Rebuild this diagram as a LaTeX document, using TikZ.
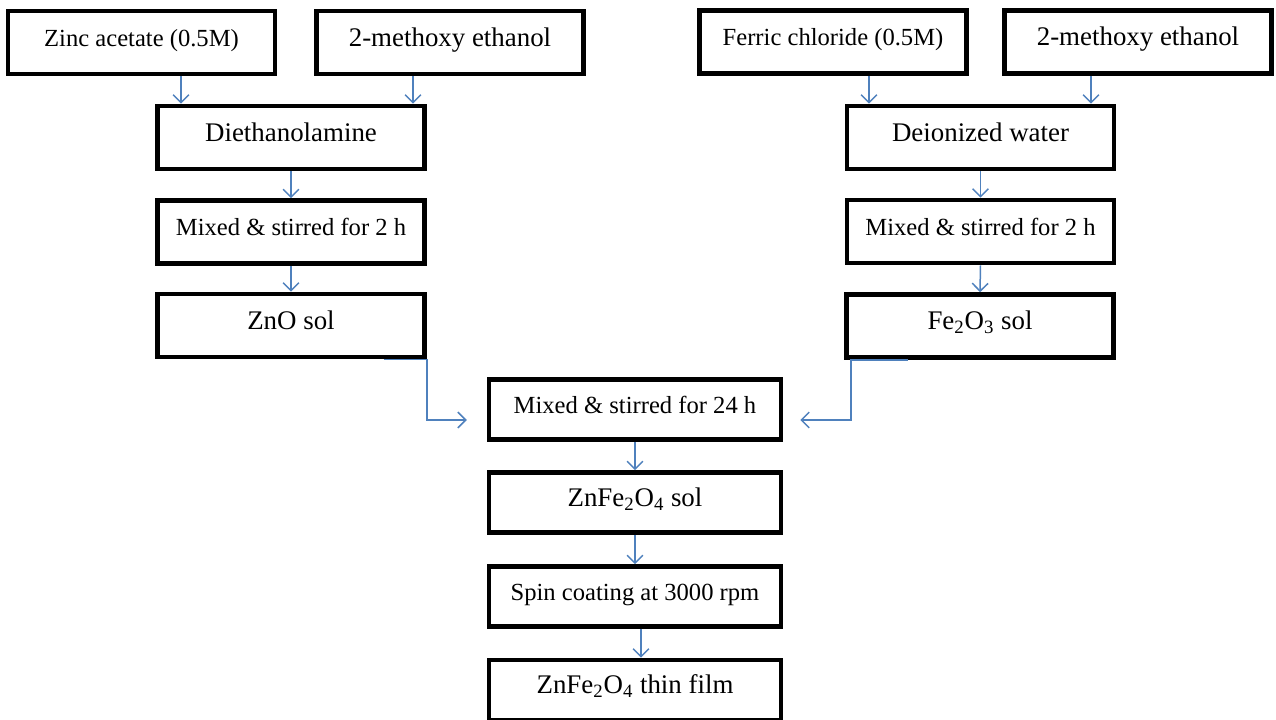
\documentclass[tikz,border=0pt]{standalone}
\usepackage{fontspec}
\setmainfont{Liberation Serif}
\usetikzlibrary{arrows.meta}
\definecolor{bleuword}{RGB}{79,129,189}
\newcommand{\flcol}{bleuword}
\newcommand{\grand}{\fontsize{15.3}{18}\selectfont}
\newcommand{\petit}{\fontsize{14}{17}\selectfont}

\begin{document}
\begin{tikzpicture}[x=0.02cm, y=-0.02cm,
    boite/.style={draw=black, line width=2.6pt, minimum width=5.34cm, minimum height=1.26cm,
        inner sep=0pt, text height=10pt, text depth=5.5pt, font=\grand},
    petite/.style={boite, font=\petit},
    centre/.style={boite, minimum width=5.84cm, minimum height=1.2cm},
    fl/.style={draw=\flcol, line width=0.85pt, -{Straight Barb[length=4.5pt,width=9pt]}}]

        \path[use as bounding box, fill=white] (0,0) rectangle (1276,720);

        % ligne du haut
        \node[petite] (zinc) at (141.5,42.5) {Zinc acetate (0.5M)};
        \node[boite] (meth1) at (450,42.5) {2-methoxy ethanol};
        \node[petite] (ferric) at (833,42) {Ferric chloride (0.5M)};
        \node[boite] (meth2) at (1138,42) {2-methoxy ethanol};

        % branche zinc
        \node[boite] (dea) at (291,137.5) {Diethanolamine};
        \node[petite] (mixzn) at (291,232) {Mixed \& stirred for 2 h};
        \node[boite] (zno) at (291,325.5) {ZnO sol};

        % branche fer
        \node[boite] (eau) at (980.5,137.5) {Deionized water};
        \node[petite] (mixfe) at (980.5,231.5) {Mixed \& stirred for 2 h};
        \node[boite] (feo) at (980,326) {Fe\textsubscript{2}O\textsubscript{3} sol};

        % melange
        \node[centre, font=\petit] (mix) at (635,409.5) {Mixed \& stirred for 24 h};
        \node[centre] (znfe) at (635,502.5) {ZnFe\textsubscript{2}O\textsubscript{4} sol};
        \node[centre, font=\petit] (spin) at (635,596.5) {Spin coating at 3000 rpm};
        \node[centre] (film) at (635,690) {ZnFe\textsubscript{2}O\textsubscript{4} thin film};

        % fleches zinc
        \draw[fl] ([xshift=0.79cm]zinc.south) -- ([xshift=0.79cm]zinc.south |- dea.north);
        \draw[fl] ([xshift=-0.74cm]meth1.south) -- ([xshift=-0.74cm]meth1.south |- dea.north);
        \draw[fl] (dea.south) -- (mixzn.north);
        \draw[fl] (mixzn.south) -- (zno.north);

        % fleches fer
        \draw[fl] ([xshift=0.72cm]ferric.south) -- ([xshift=0.72cm]ferric.south |- eau.north);
        \draw[fl] ([xshift=-0.94cm]meth2.south) -- ([xshift=-0.94cm]meth2.south |- eau.north);
        \draw[fl] (eau.south) -- (mixfe.north);
        \draw[fl] (mixfe.south) -- (feo.north);

        % vers le melange
        \draw[fl] ([xshift=-0.86cm]zno.south east) -- (zno.south east) |- ([xshift=-0.4cm,yshift=-0.21cm]mix.west);
        \draw[fl] ([xshift=1.28cm]feo.south west) -- ([xshift=0.14cm]feo.south west) |- ([xshift=0.34cm,yshift=-0.21cm]mix.east);
        \draw[fl] (mix.south) -- (znfe.north);
        \draw[fl] (znfe.south) -- (spin.north);
        \draw[fl] ([xshift=0.12cm]spin.south) -- ([xshift=0.12cm]spin.south |- film.north);

  \end{tikzpicture}
\end{document}
